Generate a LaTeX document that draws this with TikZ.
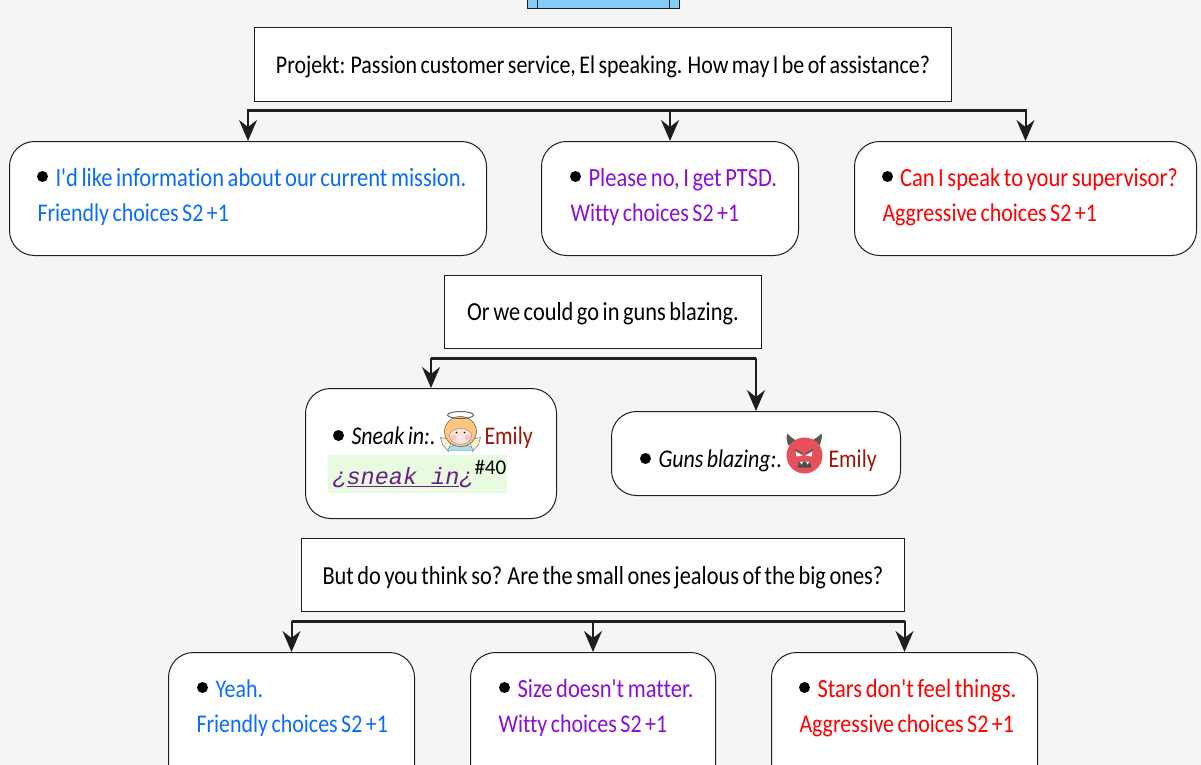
\documentclass[tikz,border=0pt]{standalone}
\usepackage{fontspec}
\setmainfont[FakeStretch=0.86,WordSpace=0.7,Ligatures={TeXOff,NoCommon}]{Carlito}
\newfontfamily\plainf{Carlito}
\newfontfamily\monof{Liberation Mono}
\usetikzlibrary{arrows.meta,calc}
\definecolor{pagebg}{HTML}{F5F5F5}
\definecolor{ctop}{HTML}{85CBF8}
\definecolor{cfriend}{HTML}{0A6CFF}
\definecolor{cwitty}{HTML}{8A0FD6}
\definecolor{caggr}{HTML}{FF0000}
\definecolor{cname}{HTML}{A0140A}
\definecolor{clink}{HTML}{6B1D8A}
\definecolor{cgreen}{HTML}{E8FBE0}
\definecolor{linec}{HTML}{1E1E1E}
\definecolor{devilred}{HTML}{E6505A}
\definecolor{angelhair}{HTML}{FFC77D}
\definecolor{angelface}{HTML}{FFE3DE}
\definecolor{angelcheek}{HTML}{FFC2C2}
\definecolor{angelwing}{HTML}{FBF3CF}
\definecolor{angelbody}{HTML}{A9DDF5}
\tikzset{
 qbox/.style={draw=linec,fill=white,line width=1pt,rectangle,inner sep=0pt},
 abox/.style={qbox,rounded corners=25pt},
 txt/.style={inner sep=0pt,outer sep=0pt,anchor=base west,font=\fontsize{25.5}{28}\selectfont,text=black},
 wtxt/.style={txt,font=\fontsize{26.2}{28}\selectfont},
 ctxt/.style={txt,anchor=base},
 cwtxt/.style={ctxt,font=\fontsize{26}{28}\selectfont},
 dot/.style={circle,fill=black,inner sep=0pt,minimum size=11pt},
 conn/.style={draw=linec,line width=2pt,-{Stealth[length=21pt,width=18pt,inset=7pt]}},
 trunk/.style={draw=linec,line width=3pt},
}
\newcommand{\boxat}[6]{\node[#1,minimum width=#5-#3,minimum height=#6-#4] (#2) at ({(#3+#5)/2},{(#4+#6)/2}) {};}
\begin{document}
\begin{tikzpicture}[x=1pt,y=-1pt,shift={(0.5pt,-0.5pt)}]
\useasboundingbox (-.5,-.5) rectangle (1200.5,764.5);
\clip (-.5,-.5) rectangle (1200.5,764.5);
\fill[pagebg] (-.5,-.5) rectangle (1200.5,764.5);

% top clipped box
\node[qbox,fill=ctop,minimum width=152pt,minimum height=30pt] (top) at (603,-7) {};
\draw[linec,line width=1pt] (537,-10) -- (537,8) (669,-10) -- (669,8);

% question boxes
\boxat{qbox}{qa}{254}{27}{951}{101}
\boxat{qbox}{qb}{444}{275}{761}{348}
\boxat{qbox}{qc}{301}{538}{904}{611}
% answers
\boxat{abox}{a1}{9}{141}{486}{255}
\boxat{abox}{a2}{541}{141}{798}{255}
\boxat{abox}{a3}{854}{141}{1196}{255}
\boxat{abox}{b1}{305}{388}{556}{518}
\boxat{abox}{b2}{611}{411}{900}{495}
\boxat{abox}{c1}{168}{652}{414}{790}
\boxat{abox}{c2}{470}{652}{715}{790}
\boxat{abox}{c3}{771}{652}{1037}{790}

% junctions and connectors
\coordinate (ja) at (qa.south |- 0,110);
\coordinate (jb) at (qb.south |- 0,358);
\coordinate (jc) at (qc.south |- 0,621);
\foreach \s/\d in {ja/a1,ja/a2,ja/a3,jb/b1,jb/b2,jc/c1,jc/c2,jc/c3}{
  \draw[conn] (\s) -| (\d.north);
}
\draw[trunk] (a1.north |- ja) -- (a3.north |- ja);
\draw[trunk] (b1.north |- jb) -- (b2.north |- jb);
\draw[trunk] (c1.north |- jc) -- (c3.north |- jc);

% texts
\node[ctxt] (tqa) at (602.5,73) {Projekt: Passion customer service, El speaking. How may I be of assistance?};
\node[cwtxt] (tqb) at (602.5,320) {Or we could go in guns blazing.};
\node[cwtxt] (tqc) at (602.5,583.5) {But do you think so? Are the small ones jealous of the big ones?};

\node[dot] (d1) at (42,176) {};
\node[wtxt,text=cfriend] (t1) at (55,186) {I'd like information about our current mission.};
\node[txt,text=cfriend] (t1b) at (37,221) {Friendly choices S2 +1};
\node[dot] (d2) at (575,176) {};
\node[wtxt,text=cwitty] (t2) at (588,186) {Please no, I get PTSD.};
\node[txt,text=cwitty] (t2b) at (570,221) {Witty choices S2 +1};
\node[dot] (d3) at (887,176) {};
\node[wtxt,text=caggr] (t3) at (899.5,186) {Can I speak to your supervisor?};
\node[txt,text=caggr] (t3b) at (882,221) {Aggressive choices S2 +1};

\node[dot] (d4) at (338,435) {};
\node[txt] (t4) at (351,444) {\itshape Sneak in:.};
\node[txt,text=cname] (t4n) at (484,444) {Emily};
\fill[cgreen] (327,454) rectangle (506,492);
\node[txt,font=\monof\itshape\fontsize{23.5}{26}\selectfont,text=clink] (t4l) at (332,484) {¿\underline{sneak in}¿};
\node[txt,font=\plainf\fontsize{21}{24}\selectfont] (t4s) at (474,474) {\#40};

\node[dot] (d5) at (645,458) {};
\node[txt] (t5) at (658,467) {\itshape Guns blazing:.};
\node[txt,text=cname] (t5n) at (828,467) {Emily};

\node[dot] (d6) at (202,687) {};
\node[txt,text=cfriend] (t6) at (215,697) {Yeah.};
\node[txt,text=cfriend] (t6b) at (196,732) {Friendly choices S2 +1};
\node[dot] (d7) at (504,687) {};
\node[wtxt,text=cwitty] (t7) at (517,697) {Size doesn't matter.};
\node[txt,text=cwitty] (t7b) at (498,732) {Witty choices S2 +1};
\node[dot] (d8) at (804,687) {};
\node[wtxt,text=caggr] (t8) at (817,697) {Stars don't feel things.};
\node[txt,text=caggr] (t8b) at (799,732) {Aggressive choices S2 +1};

% angel
\begin{scope}
\filldraw[fill=angelwing,draw=gray,line width=.6pt] (451,439) -- (440,437) -- (442,444) -- (448,451) -- cycle;
\filldraw[fill=angelwing,draw=gray,line width=.6pt] (469,439) -- (480,437) -- (478,444) -- (472,451) -- cycle;
\filldraw[fill=angelbody,draw=gray,line width=.4pt] (447,450) .. controls (448,442) and (472,442) .. (473,450) -- cycle;
\filldraw[fill=angelhair,draw=black!60,line width=.6pt] (460,431) ellipse (16pt and 15pt);
\filldraw[fill=angelface,draw=black!50,line width=.4pt] (449,434) .. controls (452,426) and (468,426) .. (471,434) .. controls (472,447) and (448,447) .. (449,434) -- cycle;
\fill[angelcheek] (453,437) circle (2.8pt) (467,437) circle (2.8pt);
\fill[black] (456,432) circle (.8pt) (464,432) circle (.8pt);
\draw[black!60,line width=1pt] (460,414.5) ellipse (13pt and 3.5pt);
\end{scope}

% devil
\begin{scope}
\fill[black!65] (788,445) .. controls (786,440) and (785,437) .. (787,433) .. controls (790,437) and (794,439) .. (797,441) -- cycle;
\fill[black!65] (819,445) .. controls (821,440) and (822,437) .. (821,433) .. controls (817,437) and (813,439) .. (810,441) -- cycle;
\fill[devilred] (804,455) circle (18pt);
\fill[white] (795,451) -- (802,455) -- (796,456) -- cycle (812,451) -- (805,455) -- (811,456) -- cycle;
\draw[black!65,line width=1.2pt] (794,449) -- (802,453) (813,449) -- (805,453);
\fill[black!70] (797,467) -- (799,461) -- (809,461) -- (811,467) -- cycle;
\fill[white] (799,461) -- (801,464) -- (803,461) -- cycle (805,461) -- (807,464) -- (809,461) -- cycle;
\end{scope}
\end{tikzpicture}
\end{document}
